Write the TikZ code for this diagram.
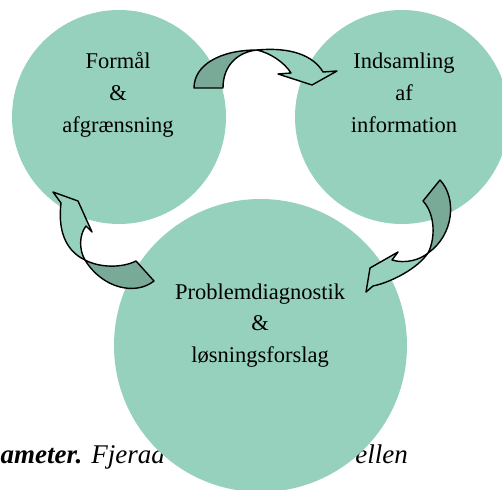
\documentclass[tikz,border=0pt]{standalone}
\usepackage{fontspec}
\setmainfont{Liberation Serif}
\definecolor{circfill}{RGB}{150,209,189}
\definecolor{arrowdark}{RGB}{121,170,151}
\tikzset{
  circ/.style={circle, fill=circfill, inner sep=0pt, outer sep=0pt},
  lbl/.style={align=center, anchor=base, inner sep=0pt, font=\fontsize{22.5}{31.5}\selectfont},
  captionstyle/.style={inner sep=0pt, font=\fontsize{27}{32}\selectfont},
  lightpart/.style={fill=circfill, draw=black, line width=1.4pt, line join=round},
  darkpart/.style={fill=arrowdark, draw=black, line width=1.4pt, line join=round}
}
\begin{document}
\begin{tikzpicture}[x=1pt, y=-1pt]
\useasboundingbox (0,0) rectangle (502,489);
% caption (partly covered by the lower circle)
\node[captionstyle, anchor=base west] (capL) at (0.5,463) {\textbf{\textit{ameter.}} \textit{Fjerad}};
\node[captionstyle, anchor=base east] (capR) at (408,463) {\textit{ellen}};
% circles
\node[circ, minimum size=214pt] (c1) at (119,117) {};
\node[circ, minimum size=214pt] (c2) at (402,117) {};
\node[circ, minimum size=293pt] (c3) at (260.5,345.5) {};
% labels (base anchor = baseline of the last line)
\node[lbl] (t1) at (118,132) {Formål\\\&\\afgrænsning};
\node[lbl] (t2) at (404,132) {Indsamling\\af\\information};
\node[lbl] (t3) at (260,362) {Problemdiagnostik\\\&\\løsningsforslag};
% top arrow (c1 -> c2)
\path[darkpart] (194,88) -- (223,88) .. controls (223,65) and (238,52) .. (257,50)
  .. controls (220,50) and (194,65) .. (194,88) -- cycle;
\path[lightpart] (257,50) .. controls (290,47) and (313,55) .. (323,72)
  -- (337,71) -- (312,85) -- (278,74) -- (291,73)
  .. controls (284,62) and (270,53) .. (257,50) -- cycle;
% right arrow (c2 -> c3)
\path[darkpart] (423,201) -- (440,180) .. controls (457,198) and (454,235) .. (428,253)
  .. controls (435,240) and (436,215) .. (423,201) -- cycle;
\path[lightpart] (428,253) .. controls (418,268) and (392,282) .. (373,286)
  -- (366,292) -- (370,268) -- (398,252) -- (392,260)
  .. controls (405,264) and (420,260) .. (428,253) -- cycle;
% left arrow (c3 -> c1)
\path[darkpart] (85,260) .. controls (100,268) and (122,268) .. (136,261)
  -- (154,281) .. controls (135,296) and (102,288) .. (85,260) -- cycle;
\path[lightpart] (85,260) .. controls (79,250) and (79,235) .. (86,226)
  -- (92,232) -- (78,201) -- (53,192) -- (61,203)
  .. controls (58,228) and (64,250) .. (85,260) -- cycle;
\end{tikzpicture}
\end{document}
